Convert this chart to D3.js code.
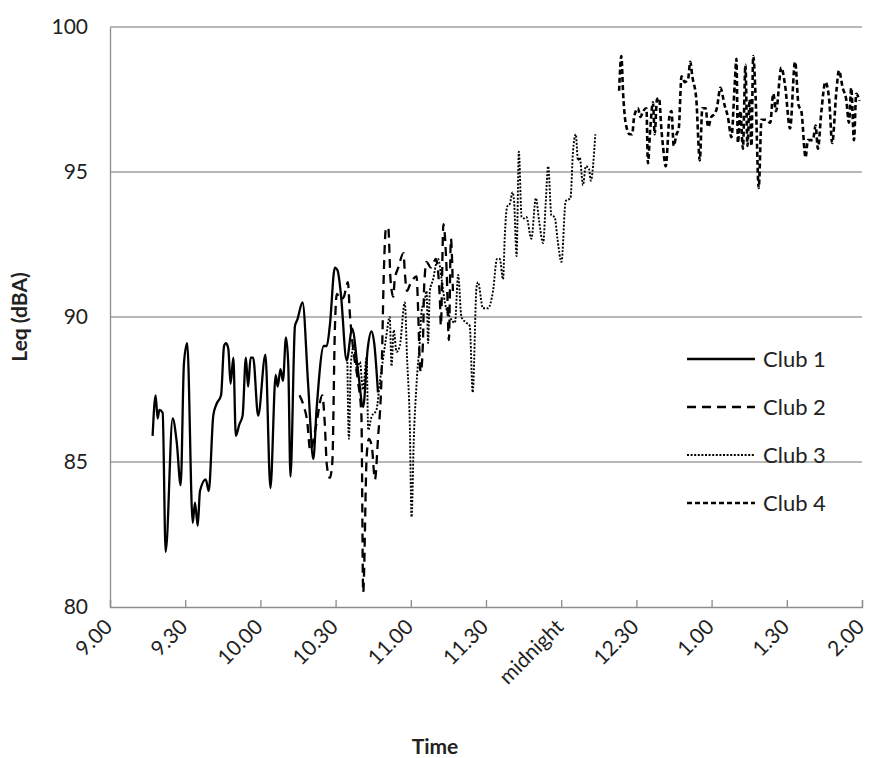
<!DOCTYPE html>
<html>
<head>
<meta charset="utf-8">
<script src="https://cdn.jsdelivr.net/npm/d3@7"></script>
<style>
  body { margin: 0; background: #fff; }
  svg { font-family: Lato, "Open Sans", sans-serif; }
</style>
</head>
<body>
<svg id="chart"></svg>
<script>
const [w, h] = [869, 758];
const m = {left: 110, right: 7, top: 27, bottom: 151};

// minutes after 9.00 pm, Leq in dBA
const club1 = [[17.0,85.9],[18.2,87.3],[19.0,86.5],[19.7,86.8],[21.0,86.7],[22.2,81.9],[25.0,86.5],[26.6,85.7],[28.2,84.2],[29.5,88.4],[30.8,89.1],[33.0,82.9],[33.9,83.6],[35.0,82.8],[35.9,84.0],[38.2,84.4],[39.4,84.0],[41.2,86.6],[42.5,87.0],[44.3,87.3],[45.5,89.0],[46.3,89.1],[47.2,88.9],[48.1,87.7],[49.2,88.6],[50.2,85.9],[51.6,86.3],[52.9,86.6],[54.2,88.6],[55.1,87.6],[56.1,88.6],[57.1,88.6],[59.1,86.6],[62.0,88.7],[64.0,84.1],[66.1,88.0],[66.9,87.6],[68.0,88.2],[69.0,87.8],[70.2,89.3],[71.1,88.4],[72.0,84.5],[73.8,89.7],[74.7,89.9],[76.8,90.5],[79.1,87.6],[81.1,85.1],[82.4,86.8],[85.3,89.0],[86.5,89.0],[87.7,89.7],[89.7,91.7],[90.8,91.6],[92.1,90.8],[94.4,88.5],[96.6,89.6],[99.0,88.1],[101.0,86.9],[102.8,88.9],[104.3,89.5],[105.4,89.1],[106.9,87.4]];

const club2 = [[75.6,87.3],[77.4,86.9],[78.6,86.45],[79.9,85.4],[82.1,86.2],[84.7,87.3],[85.7,86.3],[86.5,84.9],[87.7,84.45],[88.7,85.0],[89.7,89.55],[90.5,90.8],[92.1,90.6],[93.3,90.7],[94.9,91.2],[95.7,90.1],[97.3,88.7],[98.9,87.8],[100.3,86.6],[101.0,80.5],[102.4,85.2],[103.3,85.8],[104.5,85.5],[105.7,84.4],[106.9,85.8],[108.3,87.9],[109.3,91.7],[110.0,93.0],[111.0,93.1],[111.9,91.3],[113.0,90.7],[113.6,91.3],[115.0,91.7],[117.1,92.2],[117.6,91.55],[118.5,90.9],[119.6,91.1],[122.3,91.4],[122.9,90.3],[123.6,88.4],[124.0,88.1],[124.9,89.3],[125.3,91.0],[126.3,91.9],[128.0,91.7],[130.0,92.0],[131.6,90.6],[132.0,89.7],[133.0,93.2],[134.3,91.6],[135.2,89.2],[136.0,92.7],[136.8,90.9]];

const club3 = [[94.7,88.45],[95.3,85.8],[96.1,88.4],[97.3,89.0],[98.5,88.2],[99.7,88.45],[100.9,87.5],[102.4,88.6],[103.0,86.1],[104.3,86.55],[106.3,86.8],[107.7,87.8],[109.0,88.6],[110.0,89.2],[111.6,90.0],[112.3,88.3],[113.2,89.55],[114.3,88.8],[115.6,89.0],[117.6,90.5],[118.5,88.6],[119.6,86.3],[120.3,83.1],[121.2,85.8],[122.3,87.7],[123.6,89.2],[124.3,90.2],[125.6,90.6],[126.3,90.9],[126.9,89.1],[127.6,90.9],[128.9,91.3],[130.3,91.9],[130.9,92.0],[132.3,91.3],[133.6,90.5],[135.6,90.0],[137.6,89.8],[138.9,91.45],[140.2,90.0],[142.2,89.8],[143.5,89.7],[144.7,87.4],[146.2,91.0],[146.8,91.2],[148.8,90.3],[150.8,90.3],[152.8,90.9],[154.4,92.0],[155.5,92.0],[156.8,91.3],[157.5,92.8],[158.4,93.8],[159.5,93.9],[160.6,94.3],[161.2,94.0],[162.2,92.1],[163.1,95.7],[164.2,93.45],[165.1,93.4],[166.1,93.45],[168.1,92.7],[169.9,94.1],[171.2,93.3],[172.8,92.55],[173.8,93.9],[174.8,95.2],[176.1,93.5],[177.4,93.45],[178.5,92.7],[180.1,91.9],[181.8,94.0],[183.7,94.1],[184.7,95.7],[185.8,96.3],[186.7,95.4],[187.4,95.5],[188.7,94.55],[189.8,95.2],[191.1,95.1],[191.8,94.7],[193.6,96.3]];

const club4 = [[203.1,97.8],[204.0,99.0],[204.7,97.7],[205.7,96.7],[207.3,96.3],[208.3,96.3],[209.1,96.9],[210.6,97.2],[211.6,96.9],[212.7,97.1],[214.0,97.2],[214.6,95.3],[215.5,96.45],[216.6,97.4],[217.3,96.3],[218.2,97.5],[219.0,97.55],[220.0,96.45],[220.6,95.9],[221.7,95.2],[223.3,97.0],[224.0,97.1],[224.9,95.9],[226.0,96.3],[226.9,96.5],[228.0,98.3],[229.3,98.1],[230.6,98.2],[231.5,98.8],[232.3,98.3],[233.9,97.5],[235.3,95.4],[236.3,97.2],[237.6,97.2],[238.6,96.55],[239.9,96.9],[241.2,97.0],[242.1,97.2],[243.5,97.9],[245.2,97.3],[246.5,96.9],[247.9,96.2],[249.2,98.0],[249.9,98.9],[250.5,96.0],[251.5,97.1],[252.5,95.8],[253.5,98.7],[254.3,95.9],[255.2,97.5],[255.9,95.9],[256.6,99.0],[257.6,97.5],[258.8,94.45],[259.9,96.8],[261.6,96.8],[263.4,96.7],[264.6,97.7],[265.7,97.1],[267.8,98.6],[269.3,98.0],[271.3,96.5],[273.3,98.8],[274.7,97.3],[275.8,97.1],[277.5,95.5],[278.4,96.1],[280.4,96.1],[281.5,96.6],[282.4,95.8],[283.8,97.1],[285.4,98.1],[286.9,97.5],[288.1,96.0],[289.8,97.8],[290.8,98.5],[292.3,97.9],[293.7,97.5],[294.8,96.7],[295.7,97.9],[296.8,96.1],[297.7,97.7],[299.0,97.45]];

const tickMinutes = [0, 30, 60, 90, 120, 150, 180, 210, 240, 270, 300];
const tickLabels = ['9.00', '9.30', '10.00', '10.30', '11.00', '11.30', 'midnight', '12.30', '1.00', '1.30', '2.00'];
const yTicks = [80, 85, 90, 95, 100];
const clubNames = ['Club 1', 'Club 2', 'Club 3', 'Club 4'];

const styles = [
    {dash: null, width: 2.3},
    {dash: '9,6', width: 2.3},
    {dash: '2,1.6', width: 1.9},
    {dash: '5,3', width: 2.6}
];

const svg = d3.select('#chart')
    .attr('width', w)
    .attr('height', h);

const xScale = d3.scaleLinear()
    .domain([0, 300])
    .range([m.left, w - m.right]);

const yScale = d3.scaleLinear()
    .domain([80, 100])
    .range([h - m.bottom, m.top]);

// gridlines
svg.append('g')
    .selectAll('line')
    .data(yTicks.slice(1))
    .enter()
    .append('line')
        .attr('x1', xScale(0))
        .attr('x2', xScale(300))
        .attr('y1', d => yScale(d))
        .attr('y2', d => yScale(d))
        .attr('stroke', '#a0a0a0')
        .attr('stroke-width', 1.3);

// y axis
const yAxis = d3.axisLeft(yScale).tickValues(yTicks).tickSize(0).tickPadding(22);
svg.append('g')
    .attr('transform', `translate(${m.left}, 0)`)
    .call(yAxis)
    .call(g => g.select('.domain').attr('stroke', '#8c8c8c').attr('stroke-width', 1.3))
    .call(g => g.selectAll('text').attr('font-size', 21).attr('fill', '#222').attr('font-family', 'Lato'));

// x axis, ticks point up into the plot
const xAxis = d3.axisBottom(xScale).tickValues(tickMinutes).tickSize(-7).tickFormat((d, i) => tickLabels[i]);
svg.append('g')
    .attr('transform', `translate(0, ${h - m.bottom})`)
    .call(xAxis)
    .call(g => g.select('.domain').attr('stroke', '#8c8c8c').attr('stroke-width', 1.3))
    .call(g => g.selectAll('.tick line').attr('stroke', '#8c8c8c').attr('stroke-width', 1.3))
    .call(g => g.selectAll('text')
        .attr('font-size', 21)
        .attr('fill', '#222')
        .attr('font-family', 'Lato')
        .attr('text-anchor', 'end')
        .attr('dy', '0.35em')
        .attr('y', 0)
        .attr('transform', 'translate(-2, 16) rotate(-45)'));

// series
const line = d3.line()
    .x(d => xScale(d[0]))
    .y(d => yScale(d[1]))
    .curve(d3.curveMonotoneX);

[club1, club2, club3, club4].forEach((data, i) => {
    svg.append('path')
        .datum(data)
        .attr('d', line)
        .attr('fill', 'none')
        .attr('stroke', '#000')
        .attr('stroke-width', styles[i].width)
        .attr('stroke-dasharray', styles[i].dash)
        .attr('stroke-linejoin', 'round');
});

// legend
const legend = svg.append('g')
    .selectAll('g')
    .data(clubNames)
    .enter()
    .append('g')
        .attr('transform', (d, i) => `translate(687, ${359 + i * 48})`);

legend.append('line')
    .attr('x1', 0)
    .attr('x2', 68)
    .attr('stroke', '#000')
    .attr('stroke-width', (d, i) => styles[i].width)
    .attr('stroke-dasharray', (d, i) => styles[i].dash);

legend.append('text')
    .attr('x', 76)
    .attr('dy', '0.35em')
    .attr('font-size', 22)
    .attr('fill', '#222')
    .text(d => d);

// axis titles
svg.append('text')
    .attr('x', 435)
    .attr('y', 747)
    .attr('dy', '0.35em')
    .style('text-anchor', 'middle')
    .attr('font-size', 21)
    .attr('font-weight', 'bold')
    .attr('fill', '#222')
    .text('Time');

svg.append('text')
    .attr('transform', `translate(20, ${yScale(90)}) rotate(-90)`)
    .attr('dy', '0.35em')
    .style('text-anchor', 'middle')
    .attr('font-size', 21)
    .attr('font-weight', 'bold')
    .attr('fill', '#222')
    .text('Leq (dBA)');
</script>
</body>
</html>
